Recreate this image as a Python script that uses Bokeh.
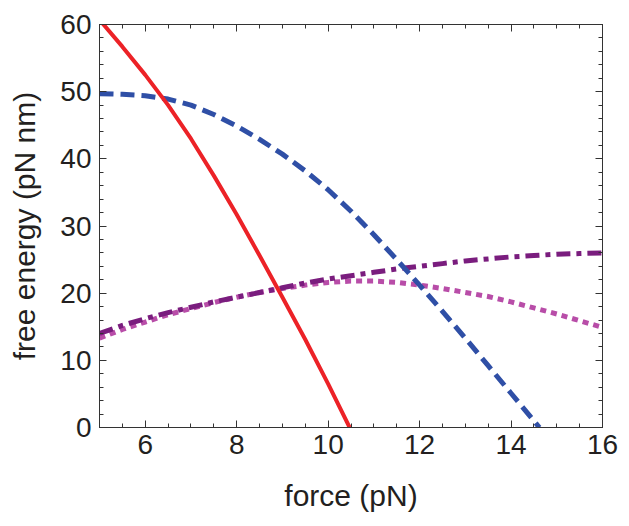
from bokeh.plotting import figure
from bokeh.models import LinearAxis, SingleIntervalTicker, Range1d
from bokeh.embed import file_html
from bokeh.resources import INLINE

# force (pN) / free energy (pN nm)
force_red = [5.0, 5.5, 6.0, 6.5, 7.0, 7.5, 8.0, 8.5, 9.0, 9.5, 10.0, 10.47]
energy_red = [60.7, 56.7, 52.5, 48.0, 43.0, 37.5, 31.7, 25.6, 19.4, 13.1, 6.5, 0.0]

force_blue = [5.0, 5.5, 6.0, 6.5, 7.0, 7.5, 8.0, 8.5, 9.0, 9.5, 10.0, 10.5, 11.0,
              11.5, 12.0, 12.5, 13.0, 13.5, 14.0, 14.5, 14.62]
energy_blue = [49.7, 49.6, 49.4, 48.9, 48.0, 46.6, 44.9, 42.9, 40.7, 38.2, 35.4, 32.2,
               28.7, 25.0, 21.2, 17.3, 13.3, 9.2, 5.1, 1.0, 0.0]

force_grid = [5.0, 5.5, 6.0, 6.5, 7.0, 7.5, 8.0, 8.5, 9.0, 9.5, 10.0, 10.5, 11.0,
              11.5, 12.0, 12.5, 13.0, 13.5, 14.0, 14.5, 15.0, 15.5, 16.0]
energy_purple = [14.0, 15.2, 16.2, 17.1, 17.9, 18.7, 19.4, 20.1, 20.8, 21.5, 22.1, 22.6,
                 23.1, 23.6, 24.0, 24.4, 24.8, 25.1, 25.4, 25.6, 25.8, 25.9, 26.0]
energy_pink = [13.3, 14.6, 15.7, 16.8, 17.7, 18.6, 19.4, 20.1, 20.7, 21.2, 21.6, 21.8,
               21.8, 21.6, 21.2, 20.7, 20.1, 19.5, 18.7, 17.8, 16.9, 15.9, 14.9]

x_major = 2
y_major = 10

FONT = "Liberation Sans"
AX = "#333333"
TXT = "#231f20"

p = figure(width=625, height=522, output_backend="svg", toolbar_location=None,
           x_range=Range1d(5, 16), y_range=Range1d(0, 60),
           min_border_left=99, min_border_right=23, min_border_top=24, min_border_bottom=95,
           x_axis_type=None, y_axis_type=None)
p.grid.visible = False
p.outline_line_color = AX
p.outline_line_width = 1
p.background_fill_color = "white"
p.border_fill_color = "white"

def make_axis(ticker, show_labels):
    ax = LinearAxis(ticker=ticker)
    ax.axis_line_color = AX
    ax.major_tick_line_color = AX
    ax.minor_tick_line_color = AX
    ax.major_tick_in = 7
    ax.major_tick_out = 0
    ax.minor_tick_in = 4
    ax.minor_tick_out = 0
    if show_labels:
        ax.major_label_text_font = FONT
        ax.major_label_text_font_size = "28px"
        ax.major_label_text_color = TXT
        ax.axis_label_text_font = FONT
        ax.axis_label_text_font_size = "30px"
        ax.axis_label_text_font_style = "normal"
        ax.axis_label_text_color = TXT
    else:
        ax.major_label_text_font_size = "1px"
        ax.major_label_text_color = None
        ax.major_label_standoff = 0
    return ax

xb = make_axis(SingleIntervalTicker(interval=x_major, num_minor_ticks=4), True)
xb.axis_label = "force (pN)"
xb.major_label_standoff = 7
xb.axis_label_standoff = 22
yl = make_axis(SingleIntervalTicker(interval=y_major, num_minor_ticks=5), True)
yl.axis_label = "free energy (pN nm)"
yl.major_label_standoff = 8
yl.axis_label_standoff = 16
p.add_layout(xb, "below")
p.add_layout(yl, "left")
p.add_layout(make_axis(SingleIntervalTicker(interval=x_major, num_minor_ticks=4), False), "above")
p.add_layout(make_axis(SingleIntervalTicker(interval=y_major, num_minor_ticks=5), False), "right")

p.line(force_grid, energy_pink, line_color="#b84da8", line_width=5, line_dash="6 5")
p.line(force_grid, energy_purple, line_color="#7a1d7e", line_width=5, line_dash="14 6 5 6")
p.line(force_blue, energy_blue, line_color="#2f4fa6", line_width=5, line_dash="14 7")
p.line(force_red, energy_red, line_color="#ec2227", line_width=4)

open("out.html", "w").write(file_html(p, INLINE))
